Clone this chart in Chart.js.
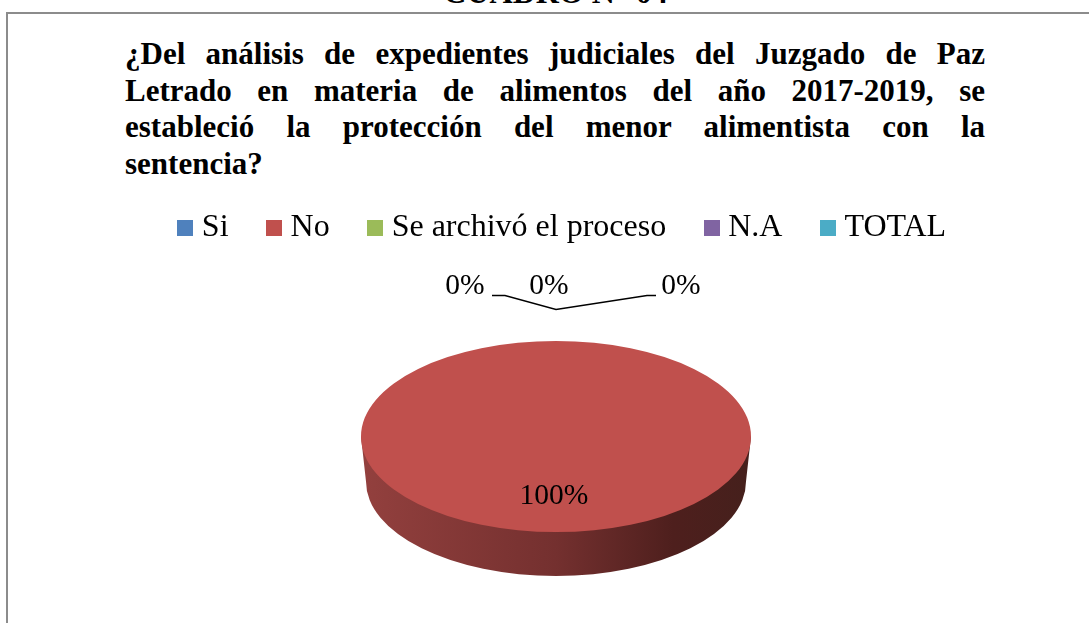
<!DOCTYPE html>
<html>
<head>
<meta charset="utf-8">
<script src="https://cdn.jsdelivr.net/npm/chart.js@4"></script>
<style>
    html, body { margin: 0; padding: 0; background: #fff; overflow: hidden; }
    body { width: 1089px; height: 623px; position: relative; font-family: "Liberation Serif", serif; color: #000; }
    #frame { position: absolute; left: 6px; top: 12px; right: -4px; bottom: -4px; border: 2px solid #8c8c8c; }
    #heading { position: absolute; left: 0; top: -26px; width: 1111px; text-align: center; font-size: 32px; font-weight: bold; line-height: 37px; white-space: nowrap; }
    #title { position: absolute; left: 125px; top: 36px; width: 860px; font-size: 31px; font-weight: bold; line-height: 36.5px; }
    #title div { text-align: justify; text-align-last: justify; white-space: normal; }
    #title div:last-child { text-align-last: left; }
    #wrap { position: absolute; left: 0; top: 0; width: 1089px; height: 623px; }
</style>
</head>
<body>
<div id="frame"></div>
<div id="heading">CUADRO N° 04</div>
<div id="title">
    <div>¿Del análisis de expedientes judiciales del Juzgado de Paz</div>
    <div>Letrado en materia de alimentos del año 2017-2019, se</div>
    <div>estableció la protección del menor alimentista con la</div>
    <div>sentencia?</div>
</div>
<div id="wrap"><canvas id="pieChart"></canvas></div>
<script>
const categories = ['Si', 'No', 'Se archivó el proceso', 'N.A', 'TOTAL'];
const values = [0, 100, 0, 0, 0];
const colors = ['#4F81BD', '#C0504D', '#9BBB59', '#8064A2', '#4BACC6'];
const labelled = ['Si', 'No', 'Se archivó el proceso', 'N.A'];

// flattening of the pie and where the labels sit, relative to its centre
const squash = 0.49;
const depth = 45;
const labelOffsets = { 'Si': [-91, -150], 'No': [-2, 60], 'Se archivó el proceso': [-7, -150], 'N.A': [125, -150] };
const leader = [[-64, -141], [-51, -141], [0, -127], [91, -141], [100, -141]];

function noArc(chart) {
    return chart.getDatasetMeta(0).data[categories.indexOf('No')];
}

// legend squares, as small canvases because the text sits too far off with the built-in rect
function legendSquare(color) {
    const c = document.createElement('canvas');
    c.width = 16;
    c.height = 16;
    const g = c.getContext('2d');
    g.fillStyle = color;
    g.fillRect(0, 0, 16, 16);
    return c;
}

const pie3d = {
    id: 'pie3d',
    afterLayout(chart) {
        chart.legend.left += 9.5;
        chart.legend.right += 9.5;
    },
    beforeDatasetsDraw(chart) {
        const { ctx } = chart;
        const arc = noArc(chart);
        const cx = arc.x, cy = arc.y, r = arc.outerRadius;
        const ry = r * squash;

        // side wall
        const grad = ctx.createLinearGradient(cx - r, 0, cx + r, 0);
        grad.addColorStop(0, '#93403e');
        grad.addColorStop(0.5, '#74302f');
        grad.addColorStop(0.8, '#4e1f1d');
        grad.addColorStop(1, '#45201c');
        ctx.save();
        ctx.beginPath();
        ctx.moveTo(cx - r, cy);
        ctx.ellipse(cx, cy + depth, r - 5, ry - 1, 0, Math.PI, 0, true);
        ctx.lineTo(cx + r, cy);
        ctx.closePath();
        ctx.fillStyle = grad;
        ctx.fill();
        ctx.restore();

        // the top face is the library's own arc, flattened
        ctx.save();
        ctx.translate(0, cy);
        ctx.scale(1, squash);
        ctx.translate(0, -cy);
    },
    afterDatasetsDraw(chart) {
        const { ctx } = chart;
        ctx.restore();

        const arc = noArc(chart);
        const cx = arc.x, cy = arc.y;
        const total = values.reduce((a, b) => a + b, 0);

        ctx.save();
        ctx.strokeStyle = '#000';
        ctx.lineWidth = 1.3;
        ctx.beginPath();
        leader.forEach((p, i) => {
            if (i === 0) ctx.moveTo(cx + p[0], cy + p[1]);
            else ctx.lineTo(cx + p[0], cy + p[1]);
        });
        ctx.stroke();

        ctx.fillStyle = '#000';
        ctx.font = '29.5px "Liberation Serif"';
        ctx.textAlign = 'center';
        ctx.textBaseline = 'middle';
        labelled.forEach(name => {
            const i = categories.indexOf(name);
            const off = labelOffsets[name];
            ctx.fillText(Math.round(values[i] / total * 100) + '%', cx + off[0], cy + off[1]);
        });
        ctx.restore();
    }
};

new Chart(document.getElementById('pieChart').getContext('2d'), {
    type: 'pie',
    data: {
        labels: categories,
        datasets: [{
            data: values,
            backgroundColor: colors,
            borderWidth: 0,
            radius: 195,
            clip: false
        }]
    },
    options: {
        responsive: true,
        maintainAspectRatio: false,
        animation: false,
        layout: { padding: { top: 167, left: 23, bottom: 4 } },
        plugins: {
            tooltip: { enabled: false },
            legend: {
                position: 'top',
                labels: {
                    usePointStyle: true,
                    pointStyleWidth: 1,
                    boxHeight: 16,
                    padding: 45,
                    color: '#000',
                    font: { family: '"Liberation Serif"', size: 32 },
                    generateLabels(chart) {
                        return Chart.overrides.pie.plugins.legend.labels.generateLabels(chart).map((item, i) => {
                            item.pointStyle = legendSquare(colors[i]);
                            return item;
                        });
                    }
                }
            }
        }
    },
    plugins: [pie3d]
});
</script>
</body>
</html>
